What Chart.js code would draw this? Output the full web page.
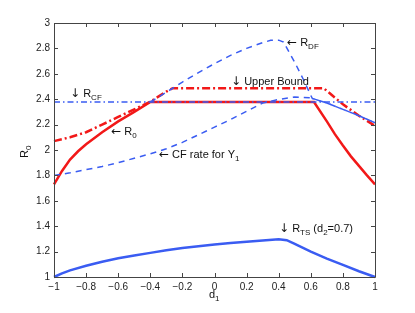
<!DOCTYPE html>
<html lang="en">
  <head>
    <meta charset="UTF-8" />
    <title>R0 vs d1</title>
    <script src="https://cdn.jsdelivr.net/npm/chart.js@4.4.1/dist/chart.umd.min.js"></script>
    <style>
      body { margin: 0; background: #fff; }
    </style>
  </head>
  <body>
    <canvas id="chart" width="415" height="313"></canvas>

    <script>
      // tick labels
      const xTicks = [-1, -0.8, -0.6, -0.4, -0.2, 0, 0.2, 0.4, 0.6, 0.8, 1];
      const yTicks = [1, 1.2, 1.4, 1.6, 1.8, 2, 2.2, 2.4, 2.6, 2.8, 3];

      // R0 (red solid)
      const r0X = [-1, -0.95, -0.9, -0.85, -0.8, -0.7, -0.6, -0.5, -0.4, 0.62, 0.7, 0.75, 0.8, 0.85, 0.9, 0.95, 1];
      const r0Y = [1.73, 1.835, 1.925, 1.99, 2.045, 2.14, 2.225, 2.3, 2.378, 2.378, 2.225, 2.125, 2.035, 1.95, 1.875, 1.8, 1.73];

      // upper bound (red dash-dot)
      const ubX = [-1, -0.9, -0.8, -0.7, -0.6, -0.5, -0.4, -0.3, -0.26, 0.68, 0.8, 0.9, 1];
      const ubY = [2.07, 2.1, 2.14, 2.2, 2.26, 2.32, 2.38, 2.46, 2.487, 2.487, 2.36, 2.27, 2.19];

      // R_CF (blue dash-dot)
      const rcfX = [-1, 1];
      const rcfY = [2.378, 2.378];

      // R_DF (blue dashed)
      const rdfX = [-0.4, -0.3, -0.2, -0.1, 0, 0.1, 0.2, 0.3, 0.35, 0.4, 0.43, 0.5, 0.55, 0.6, 0.61, 0.7, 0.8, 0.9, 1];
      const rdfY = [2.378, 2.455, 2.535, 2.61, 2.68, 2.745, 2.8, 2.845, 2.864, 2.865, 2.85, 2.69, 2.565, 2.43, 2.405, 2.37, 2.32, 2.27, 2.215];

      // CF rate for Y1 (blue dashed)
      const cfX = [-1, -0.9, -0.8, -0.7, -0.6, -0.5, -0.4, -0.3, -0.2, -0.1, 0, 0.1, 0.2, 0.3, 0.4, 0.5, 0.6, 0.7, 0.8, 0.9, 1];
      const cfY = [1.8, 1.82, 1.845, 1.87, 1.9, 1.935, 1.97, 2.01, 2.06, 2.12, 2.18, 2.24, 2.305, 2.37, 2.398, 2.418, 2.41, 2.37, 2.32, 2.27, 2.215];

      // R_TS, d2 = 0.7 (blue solid)
      const tsX = [-1, -0.95, -0.9, -0.8, -0.7, -0.6, -0.5, -0.4, -0.3, -0.2, -0.1, 0, 0.1, 0.2, 0.3, 0.4, 0.45, 0.5, 0.6, 0.7, 0.8, 0.9, 1];
      const tsY = [1.0, 1.028, 1.052, 1.088, 1.12, 1.148, 1.17, 1.19, 1.21, 1.228, 1.242, 1.255, 1.267, 1.278, 1.288, 1.297, 1.29, 1.26, 1.2, 1.145, 1.095, 1.045, 1.0];

      const RED = "#f21818";
      const BLUE = "#3a5cf2";
      const FONT = "'Liberation Sans', Arial, Helvetica, sans-serif";

      // annotation texts, anchored in data units; [text, style] (a = arrow, s = subscript)
      const notes = [
        { x: -0.9, y: 2.419, parts: [["\u2193", "a"], [" R", ""], ["CF", "s"]] },
        { x: -0.644, y: 2.119, parts: [["\u2190", "a"], [" R", ""], ["0", "s"]] },
        { x: 0.103, y: 2.513, parts: [["\u2193", "a"], [" Upper Bound", ""]] },
        { x: 0.452, y: 2.82, parts: [["\u2190", "a"], [" R", ""], ["DF", "s"]] },
        { x: -0.346, y: 1.938, parts: [["\u2190", "a"], [" CF rate for Y", ""], ["1", "s"]] },
        { x: 0.402, y: 1.354, parts: [["\u2193", "a"], [" R", ""], ["TS", "s"], [" (d", ""], ["2", "s"], ["=0.7)", ""]] },
      ];

      function pts(xs, ys) {
        return xs.map((x, i) => ({ x: x, y: ys[i] }));
      }

      function drawParts(ctx, x, y, parts) {
        parts.forEach(([text, kind]) => {
          if (kind === "s") ctx.font = "8px " + FONT;
          else if (kind === "a") ctx.font = "12px 'DejaVu Sans', sans-serif";
          else ctx.font = "11px " + FONT;
          ctx.fillText(text, x, kind === "s" ? y + 3 : y);
          x += ctx.measureText(text).width;
        });
      }

      const framePlugin = {
        id: "frame",
        afterDraw(chart) {
          const ctx = chart.ctx;
          const a = chart.chartArea;
          const xs = chart.scales.x;
          const ys = chart.scales.y;
          ctx.save();
          ctx.strokeStyle = "#444";
          ctx.lineWidth = 1;
          ctx.beginPath();
          ctx.rect(a.left + 0.5, a.top + 0.5, a.right - a.left, a.bottom - a.top);
          xTicks.forEach((v) => {
            const px = Math.round(xs.getPixelForValue(v)) + 0.5;
            ctx.moveTo(px, a.bottom);
            ctx.lineTo(px, a.bottom - 4);
            ctx.moveTo(px, a.top);
            ctx.lineTo(px, a.top + 4);
          });
          yTicks.forEach((v) => {
            const py = Math.round(ys.getPixelForValue(v)) + 0.5;
            ctx.moveTo(a.left, py);
            ctx.lineTo(a.left + 4, py);
            ctx.moveTo(a.right, py);
            ctx.lineTo(a.right - 4, py);
          });
          ctx.stroke();

          ctx.fillStyle = "#111";
          ctx.textBaseline = "alphabetic";
          ctx.textAlign = "left";
          notes.forEach((n) => {
            drawParts(ctx, xs.getPixelForValue(n.x), ys.getPixelForValue(n.y), n.parts);
          });

          // axis titles
          drawParts(ctx, 209, 298, [["d", ""], ["1", "s"]]);
          ctx.translate(28, 158);
          ctx.rotate(-Math.PI / 2);
          drawParts(ctx, 0, 0, [["R", ""], ["0", "s"]]);
          ctx.restore();
        },
      };

      const common = { pointRadius: 0, tension: 0, fill: false, clip: false, borderCapStyle: "butt" };

      new Chart(document.getElementById("chart"), {
        type: "line",
        data: {
          datasets: [
            Object.assign({ label: "R_CF", data: pts(rcfX, rcfY), borderColor: BLUE, borderWidth: 1.5, borderDash: [6, 3, 1.5, 3] }, common),
            Object.assign({ label: "R_DF", data: pts(rdfX, rdfY), borderColor: BLUE, borderWidth: 1.5, borderDash: [6, 5] }, common),
            Object.assign({ label: "CF rate for Y1", data: pts(cfX, cfY), borderColor: BLUE, borderWidth: 1.5, borderDash: [6, 5] }, common),
            Object.assign({ label: "Upper Bound", data: pts(ubX, ubY), borderColor: RED, borderWidth: 2.5, borderDash: [8, 3, 2, 3] }, common),
            Object.assign({ label: "R0", data: pts(r0X, r0Y), borderColor: RED, borderWidth: 2.5 }, common),
            Object.assign({ label: "R_TS", data: pts(tsX, tsY), borderColor: BLUE, borderWidth: 2.5 }, common),
          ],
        },
        options: {
          responsive: false,
          animation: false,
          layout: { padding: { left: 0, top: 23, right: 40, bottom: 0 } },
          plugins: { legend: { display: false }, tooltip: { enabled: false } },
          scales: {
            x: {
              type: "linear",
              min: -1,
              max: 1,
              afterFit(scale) { scale.height = 36; },
              afterBuildTicks(scale) { scale.ticks = xTicks.map((v) => ({ value: v })); },
              grid: { display: false, drawTicks: false },
              border: { display: false },
              ticks: {
                padding: 4,
                color: "#222",
                font: { family: FONT, size: 10 },
                maxRotation: 0,
                callback: (v) => String(v).replace("-", "\u2212"),
              },
            },
            y: {
              min: 1,
              max: 3,
              afterFit(scale) { scale.width = 54; },
              afterBuildTicks(scale) { scale.ticks = yTicks.map((v) => ({ value: v })); },
              grid: { display: false, drawTicks: false },
              border: { display: false },
              ticks: {
                padding: 4,
                color: "#222",
                font: { family: FONT, size: 10 },
                callback: (v) => String(v),
              },
            },
          },
        },
        plugins: [framePlugin],
      });
    </script>
  </body>
</html>
